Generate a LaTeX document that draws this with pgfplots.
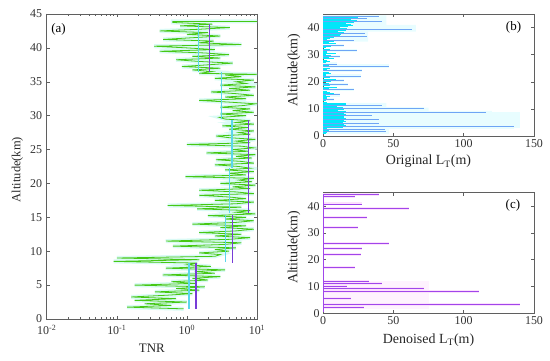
\documentclass[border=0pt]{standalone}
\usepackage{fontspec}
\setmainfont{Liberation Serif}
\usepackage{pgfplots}
\usepackage{pgfplotstable}
\pgfplotsset{compat=1.18}

\definecolor{gr}{RGB}{70,200,20}
\definecolor{halo}{RGB}{218,250,245}
\definecolor{cy}{RGB}{90,215,235}
\definecolor{pu}{RGB}{120,60,215}
\definecolor{bcy}{RGB}{0,230,250}
\definecolor{bbl}{RGB}{110,165,245}
\definecolor{bhalo}{RGB}{232,253,255}
\definecolor{cpu}{RGB}{160,70,235}
\definecolor{chalo}{RGB}{252,225,252}
\definecolor{axc}{RGB}{95,95,95}

\pgfplotstableread{
tnr alt
0.9 1.50
0.14 1.75
0.6 2.00
0.25 2.25
1.0 2.50
0.18 2.75
0.7 3.00
0.16 3.25
0.5 3.50
1.2 3.75
0.35 4.00
1.5 4.25
0.7 4.50
1.8 4.75
0.18 5.00
1.3 5.25
0.6 5.50
2.0 5.75
1.2 6.00
3.0 6.25
0.45 6.50
2.5 6.75
1.3 7.00
3.5 7.25
0.5 7.50
2.2 7.75
1.0 8.00
1.4 8.25
0.09 8.50
1.5 8.75
0.1 9.00
2.5 9.25
3.0 9.50
1.5 9.75
4.0 10.00
2.5 10.25
5.0 10.50
0.63 10.75
3.5 11.00
6.0 11.25
0.5 11.50
4.0 11.75
8.0 12.00
2.5 12.25
6.0 12.50
1.5 12.75
5.0 13.00
9.0 13.25
3.0 13.50
7.0 13.75
1.2 14.00
5.0 14.25
9.0 14.50
3.5 14.75
7.0 15.00
2.0 15.25
9.5 15.50
5.0 15.75
8.0 16.00
1.4 16.25
6.0 16.50
0.53 16.75
5.0 17.00
9.0 17.25
2.5 17.50
7.0 17.75
4.0 18.00
1.5 18.25
9.0 18.50
5.0 18.75
1.5 19.00
8.0 19.25
4.5 19.50
9.5 19.75
3.0 20.00
8.5 20.25
5.5 20.50
9.0 20.75
0.95 21.00
7.0 21.25
4.0 21.50
9.0 21.75
3.5 22.00
8.0 22.25
5.5 22.50
2.5 22.75
9.0 23.00
6.0 23.25
2.6 23.50
8.5 23.75
5.0 24.00
9.5 24.25
1.9 24.50
7.5 24.75
4.5 25.00
9.0 25.25
6.0 25.50
1.0 25.75
8.0 26.00
5.0 26.25
9.5 26.50
4.0 26.75
2.6 27.00
8.0 27.25
5.5 27.50
9.0 27.75
4.0 28.00
7.5 28.25
3.2 28.50
9.0 28.75
5.0 29.00
8.0 29.25
3.5 29.50
2.9 29.75
7.0 30.00
3.0 30.25
9.0 30.50
4.5 30.75
8.0 31.00
3.0 31.25
6.5 31.50
9.5 31.75
4.0 32.00
1.5 32.25
7.0 32.50
3.5 32.75
9.0 33.00
5.0 33.25
2.2 33.50
8.0 33.75
4.0 34.00
9.5 34.25
3.0 34.50
7.0 34.75
5.0 35.00
9.0 35.25
2.5 35.50
6.0 35.75
3.5 36.00
10.0 36.10
1.5 36.25
2.3 36.50
1.2 36.75
3.0 37.00
0.85 37.25
2.0 37.50
4.5 37.75
1.5 38.00
0.7 38.25
3.0 38.50
1.2 38.75
4.0 39.00
1.8 39.25
0.41 39.50
2.5 39.75
1.0 40.00
0.34 40.25
6.0 40.50
1.5 40.75
2.4 41.00
0.46 41.25
1.2 41.50
3.0 41.75
1.0 42.00
2.0 42.25
0.41 42.50
1.5 42.75
4.1 43.00
0.8 43.25
2.3 43.50
0.63 43.75
0.63 43.90
10.0 43.90
}\greendata

\pgfplotstableread{
v a
22 44.2
18 43.9
25 43.6
15 43.3
20 43.0
24 42.7
12 42.4
19 42.1
22 41.8
16 41.5
20 41.2
14 40.9
21 40.6
18 40.3
12 40.0
17 39.7
20 39.4
13 39.1
16 38.8
11 38.5
15 38.2
9 37.9
13 37.6
10 37.3
12 37.0
6 36.7
8 36.4
5 36.0
3 35.5
8 35.0
4 34.5
9 34.0
3 33.5
6 33.0
2 32.5
5 32.0
7 31.5
3 31.0
9 30.5
2 30.0
6 29.5
4 29.0
8 28.5
3 28.0
5 27.5
2 27.0
7 26.5
4 26.0
9 25.5
5 25.0
3 24.5
8 24.0
4 23.5
6 23.0
2 22.5
7 22.0
5 21.5
9 21.0
3 20.5
6 20.0
4 19.5
8 19.0
5 18.5
10 18.0
4 17.5
7 17.0
3 16.5
5 16.0
8 15.5
2 15.0
5 14.5
3 14.0
4 13.5
2 13.0
3 12.5
14 12.1
16 11.8
12 11.5
15 11.2
10 10.9
14 10.6
16 10.3
12 10.0
15 9.7
11 9.4
16 9.1
13 8.8
15 8.5
12 8.2
16 7.9
10 7.6
14 7.3
15 7.0
12 6.7
16 6.4
13 6.1
15 5.8
11 5.5
16 5.2
14 4.9
12 4.6
15 4.3
13 4.0
16 3.7
12 3.4
14 3.1
3 2.8
5 2.5
2 2.2
4 1.9
6 1.6
3 1.3
2 1.0
}\bdense

\pgfplotstableread{
v a
40 44.0
31 43.2
42 42.3
63 39.2
30 38.0
31 36.8
22 35.2
15 33.3
24 31.5
12 29.3
10 26.5
47 25.8
28 24.2
27 22.1
15 20.4
18 19.0
22 17.2
12 15.2
8 13.4
42 11.4
72 10.0
116 8.6
35 7.5
40 6.0
40 4.6
136 3.4
44 2.6
45 1.6
}\blong

\pgfplotstableread{
v a
40 44.3
23 43.5
2 40.6
28 40.8
61 39.0
31 35.7
1 34.0
25 32.0
47 26.0
28 24.3
27 22.0
1 20.0
23 17.0
33 11.7
42 11.3
17 10.1
72 9.1
111 8.3
40 8.1
20 5.6
140 3.2
29 2.1
}\clong

\pgfplotsset{
  mystyle/.style={
    scale only axis,
    axis line style={axc, line width=0.6pt},
    tick style={axc, line width=0.5pt},
    tick align=inside,
    major tick length=3bp,
    minor tick length=1.6bp,
    tick label style={font=\fontsize{12}{14}\selectfont, text=black!80},
    /pgf/number format/assume math mode=true,
  }
}

\begin{document}
\begin{tikzpicture}
\path (0,0) rectangle (550bp,361bp);

% panel (a)
\begin{axis}[mystyle,
  at={(46.7bp,42bp)}, anchor=south west,
  width=210.3bp, height=305bp,
  xmode=log, xmin=0.01, xmax=10,
  xtick={0.01,0.1,1,10},
  xticklabels={10\textsuperscript{-2},10\textsuperscript{-1},10\textsuperscript{0},10\textsuperscript{1}},
  xticklabel style={inner sep=1bp, yshift=-5bp},
  ymin=0, ymax=45, ytick={0,5,...,45},
  yticklabel style={inner sep=1bp, xshift=-3.5bp},
  xlabel={TNR}, ylabel={Altitude(km)},
  every axis x label/.style={at={(axis description cs:0.5,-0.095)}, anchor=center, font=\fontsize{13}{15}\selectfont, text=black!85},
  every axis y label/.style={at={(axis description cs:-0.14,0.49)}, rotate=90, anchor=center, font=\fontsize{12.5}{15}\selectfont, text=black!85},
]
\addplot[halo, line width=4pt] table[x=tnr,y=alt] {\greendata};
\addplot[gr, line width=0.8pt] table[x=tnr,y=alt] {\greendata};
\addplot[cy, line width=1.1pt] coordinates {(1.48,36.5) (1.48,43.5)};
\addplot[cy, line width=1.1pt] coordinates {(3.16,29.5) (3.16,36.5)};
\addplot[cy, line width=1.1pt] coordinates {(4.4,22.3) (4.4,29.4)};
\addplot[cy, line width=1.1pt] coordinates {(4.0,15.6) (4.0,22.3)};
\addplot[cy, line width=1.1pt] coordinates {(3.6,8.4) (3.6,15.3)};
\addplot[cy, line width=1.1pt] coordinates {(1.07,1.5) (1.07,8.2)};
\addplot[pu, line width=1.1pt] coordinates {(2.1,36.5) (2.1,43.5)};
\addplot[pu, line width=1.1pt] coordinates {(7.5,15.6) (7.5,29.4)};
\addplot[pu, line width=1.1pt] coordinates {(4.5,8.3) (4.5,15.3)};
\addplot[pu, line width=1.1pt] coordinates {(1.35,1.5) (1.35,8.2)};
\node[font=\fontsize{13}{15}\selectfont] at (axis description cs:0.056,0.948) {(a)};
\end{axis}

% panel (b)
\begin{axis}[mystyle,
  at={(323bp,225bp)}, anchor=south west,
  width=211bp, height=122bp,
  xmin=0, xmax=150, xtick={0,50,100,150},
  ymin=0, ymax=45, ytick={0,10,...,40},
  xlabel={Original L\textsubscript{T}(m)}, ylabel={Altitude(km)},
  every axis x label/.style={at={(axis description cs:0.5,-0.21)}, anchor=center, font=\fontsize{14}{16}\selectfont, text=black!85},
  every axis y label/.style={at={(axis description cs:-0.137,0.54)}, rotate=90, anchor=center, font=\fontsize{14}{16}\selectfont, text=black!85},
]
\addplot[fill=bhalo, draw=none] coordinates {(0,0.8) (47,0.8) (47,3.0) (140,3.0) (140,8.8) (120,8.8) (120,9.3) (75,9.3) (75,10.5) (45,10.5) (45,12.2) (0,12.2)};
\addplot[fill=bhalo, draw=none] coordinates {(0,34.8) (32,34.8) (32,38.5) (66,38.5) (66,41) (45,41) (45,44.5) (0,44.5)};
\addplot[xcomb, bhalo, line width=3.5bp] table[x=v,y=a] {\blong};
\addplot[xcomb, bcy, line width=1.1bp] table[x=v,y=a] {\bdense};
\addplot[xcomb, bbl, line width=0.8bp] table[x=v,y=a] {\blong};
\node[font=\fontsize{13}{15}\selectfont] at (axis description cs:0.903,0.889) {(b)};
\end{axis}

% panel (c)
\begin{axis}[mystyle,
  at={(323bp,47.7bp)}, anchor=south west,
  width=211bp, height=120.6bp,
  xmin=0, xmax=150, xtick={0,50,100,150},
  ymin=0, ymax=45, ytick={0,10,...,40},
  xlabel={Denoised L\textsubscript{T}(m)}, ylabel={Altitude(km)},
  every axis x label/.style={at={(axis description cs:0.5,-0.22)}, anchor=center, font=\fontsize{14}{16}\selectfont, text=black!85},
  every axis y label/.style={at={(axis description cs:-0.137,0.545)}, rotate=90, anchor=center, font=\fontsize{14}{16}\selectfont, text=black!85},
]
\addplot[fill=chalo!45, draw=none] coordinates {(0,1.5) (75,1.5) (75,12) (0,12)};
\addplot[xcomb, chalo, line width=3bp] table[x=v,y=a] {\clong};
\addplot[xcomb, cpu, line width=0.9bp] table[x=v,y=a] {\clong};
\addplot[cpu, line width=1bp] coordinates {(0.5,0.5) (0.5,44.5)};
\node[font=\fontsize{13}{15}\selectfont] at (axis description cs:0.90,0.891) {(c)};
\end{axis}
\end{tikzpicture}
\end{document}
